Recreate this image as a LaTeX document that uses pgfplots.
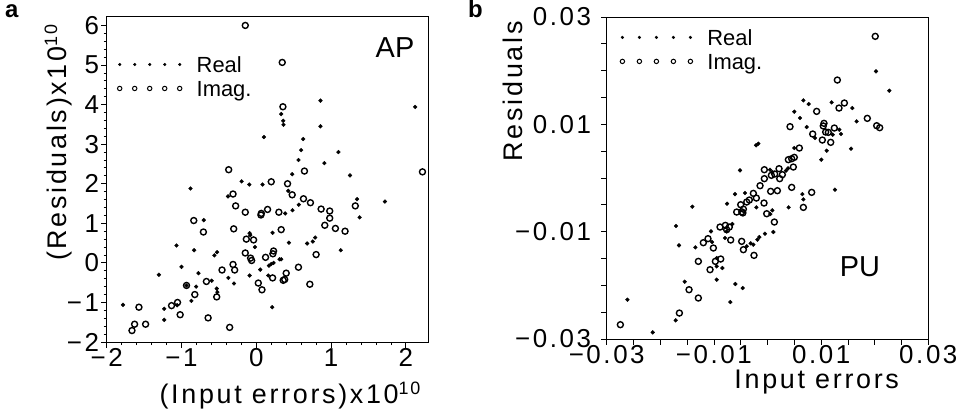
\documentclass[border=0pt]{standalone}
\usepackage{fontspec}
\setmainfont{Liberation Sans}
\newfontfamily\lsfont{Liberation Sans}[LetterSpace=10]
\usepackage{pgfplots}
\pgfplotsset{compat=1.18}

\pgfplotstableread{
x y
-0.147 6.00
0.347 5.065
0.356 3.945
-0.369 2.354
0.644 2.32
2.222 2.30
0.20 2.05
0.418 2.00
-0.311 1.74
0.48 1.72
0.631 1.62
0.724 1.52
-0.276 1.44
1.324 1.44
0.867 1.36
0.982 1.31
-0.147 1.28
0.151 1.35
0.067 1.25
0.062 1.21
0.302 1.28
0.982 1.13
-0.836 1.07
0.916 0.95
1.058 0.87
1.187 0.80
-0.302 0.86
0.333 0.84
-0.707 0.78
-0.133 0.60
-0.036 0.58
-0.147 0.25
0.124 0.14
0.231 0.30
0.222 0.23
0.80 0.21
-0.076 0.12
-0.062 0.06
-0.311 -0.04
-0.458 -0.18
-0.289 -0.18
0.564 -0.11
0.218 -0.38
0.40 -0.26
0.36 -0.44
0.38 -0.42
-0.667 -0.47
0.716 -0.54
0.027 -0.51
0.076 -0.68
-0.529 -0.86
-0.822 -0.80
-0.933 -0.57
-1.053 -1.00
-1.133 -1.08
-1.018 -1.31
-0.644 -1.39
-0.356 -1.63
-1.569 -1.12
-1.627 -1.55
-1.48 -1.55
-1.662 -1.71
}\apimag

\pgfplotstableread{
x y
0.333 3.76
0.36 3.59
0.364 3.49
0.858 4.10
0.858 3.45
2.124 3.94
0.102 3.18
0.627 3.13
0.60 2.85
1.098 2.80
0.564 2.60
0.911 2.52
0.48 2.24
1.253 2.21
-0.196 2.06
-0.093 1.98
0.084 1.98
-0.88 1.88
-0.378 1.68
0.427 1.82
1.347 1.61
1.72 1.55
0.484 1.33
0.387 1.25
0.569 1.47
1.382 1.15
-0.702 1.08
0.218 0.76
-0.089 0.75
-0.08 0.70
0.436 0.51
0.68 0.49
0.756 0.54
0.787 0.64
-0.018 0.40
-1.067 0.44
-0.831 0.32
-0.524 0.27
-0.56 0.19
1.129 0.32
0.311 0.09
0.333 0.09
-1.0 -0.10
0.053 -0.17
0.169 -0.07
0.20 -0.03
0.231 0.0
-1.302 -0.30
-0.773 -0.26
-0.596 -0.45
-0.373 -0.38
-0.089 -0.32
0.16 -0.32
-0.298 -0.52
-0.804 -0.60
-0.529 -0.65
-0.52 -0.74
-0.933 -0.57
-0.867 -0.96
-1.782 -1.06
-1.231 -1.16
-1.058 -1.07
0.213 -1.12
-1.231 -1.44
}\apreal

\pgfplotstableread{
x y
0.0201 0.0264
0.01303 0.01826
0.01334 0.01304
0.01434 0.01398
0.00917 0.01242
0.01862 0.01112
0.02037 0.00975
0.02093 0.00938
0.0042 0.00957
0.01054 0.01019
0.0104 0.0097
0.01247 0.00932
0.01135 0.00851
0.01085 0.00857
0.00843 0.0082
0.01023 0.00708
0.01179 0.00665
0.00594 0.00559
0.005 0.00385
0.00451 0.0036
0.00389 0.00342
0.00482 0.00205
0.00215 0.00174
-0.00059 0.00155
-0.00059 -0.00012
0.00072 0.0005
0.00134 0.00075
0.00227 -0.00012
0.00277 0.00063
0.00059 -0.00248
0.00184 -0.00236
0.00451 -0.00174
0.00824 -0.00267
0.00669 -0.00547
-0.00139 -0.00143
-0.00264 -0.00286
-0.00208 -0.00373
-0.00065 -0.00466
-0.00339 -0.0041
-0.00388 -0.00447
-0.005 -0.00497
-0.00575 -0.00634
-0.0045 -0.0058
-0.0048 -0.0063
-0.0046 -0.0065
-0.00015 -0.00665
0.00128 -0.0082
-0.00886 -0.00913
-0.00786 -0.00882
-0.00762 -0.00963
-0.00712 -0.00913
-0.00687 -0.01155
-0.00482 -0.0118
-0.0045 -0.01335
-0.00252 -0.01441
-0.0111 -0.0113
-0.01197 -0.01205
-0.0101 -0.01304
-0.0129 -0.01553
-0.00873 -0.01509
-0.00973 -0.01553
-0.01072 -0.01708
-0.01464 -0.02081
-0.0129 -0.02236
-0.01644 -0.02516
-0.02745 -0.02733
}\puimag

\pgfplotstableread{
x y
0.02024 0.01988
0.02273 0.01627
0.00669 0.01447
0.00768 0.01379
0.01197 0.0141
0.01583 0.01304
0.005 0.01236
0.00606 0.01118
0.01663 0.01056
0.00731 0.0095
0.0134 0.009
0.01371 0.0082
0.01216 0.00808
0.00886 0.00745
-0.00171 0.0064
-0.00214 0.00609
0.005 0.00559
0.01558 0.00547
0.01104 0.00509
0.01004 0.00342
-0.00513 0.00143
0.00047 0.00155
0.0009 0.00112
0.00345 0.00137
0.00383 0.0018
-0.00606 -0.003
-0.0042 -0.00279
0.0065 -0.003
0.00669 -0.00398
0.01259 -0.00217
-0.00755 -0.00478
-0.01402 -0.00534
-0.00208 -0.00547
0.0009 -0.00602
0.00395 -0.00547
0.00053 -0.00671
-0.01707 -0.00894
-0.00762 -0.00994
-0.00656 -0.00857
-0.01054 -0.00994
0.00109 -0.01006
-0.00047 -0.01037
-0.00152 -0.011
-0.00189 -0.01149
-0.00314 -0.01217
-0.00264 -0.01242
-0.00793 -0.01118
-0.00388 -0.01273
-0.01651 -0.01255
-0.01346 -0.01292
-0.01035 -0.01193
-0.00948 -0.01491
-0.00948 -0.01646
-0.00842 -0.01677
-0.00948 -0.01894
-0.01545 -0.01932
-0.006 -0.01975
-0.00463 -0.0205
-0.00693 -0.02311
-0.02614 -0.02267
-0.01713 -0.02652
-0.02142 -0.02876
}\pureal

\pgfplotsset{
  resid/.style={
    scale only axis, width=321.6bp,
    axis line style={line width=0.9bp},
    every tick/.style={line width=0.8bp, black},
    tick align=outside, xtick pos=left, ytick pos=left,
    major tick length=5.5bp, minor tick length=3bp,
    ticklabel style={font=\fontsize{26}{26}\lsfont},
    xticklabel style={inner sep=1bp},
    yticklabel style={inner sep=2bp},
    scaled ticks=false,
    legend cell align=left,
    legend style={draw=none, fill=none, inner sep=0pt, outer sep=0pt,
      anchor=north west, font=\fontsize{22}{22}\selectfont,
      nodes={inner sep=0pt, text height=20bp, text depth=4bp},
      row sep=0pt, column sep=0pt},
  },
  realpts/.style={only marks, mark=*, mark size=1.9bp, black},
  imagpts/.style={only marks, mark=o, mark size=3.0bp, black, mark options={line width=1.4bp}},
  legrealA/.style={legend image code/.code={\draw[##1,mark size=1.4bp] plot[only marks] coordinates {(0bp,0bp) (15bp,0bp) (30bp,0bp) (45bp,0bp) (60bp,0bp)}; \path[draw=none] (0bp,0bp) -- (77bp,0bp);}},
  legimagA/.style={legend image code/.code={\draw[##1,mark size=2.2bp,mark options={line width=1.0bp}] plot[only marks] coordinates {(0bp,0bp) (15bp,0bp) (30bp,0bp) (45bp,0bp) (60bp,0bp)}; \path[draw=none] (0bp,0bp) -- (77bp,0bp);}},
  legrealB/.style={legend image code/.code={\draw[##1,mark size=1.4bp] plot[only marks] coordinates {(0bp,0bp) (17bp,0bp) (34bp,0bp) (51bp,0bp) (68bp,0bp)}; \path[draw=none] (0bp,0bp) -- (85bp,0bp);}},
  legimagB/.style={legend image code/.code={\draw[##1,mark size=2.2bp,mark options={line width=1.0bp}] plot[only marks] coordinates {(0bp,0bp) (17bp,0bp) (34bp,0bp) (51bp,0bp) (68bp,0bp)}; \path[draw=none] (0bp,0bp) -- (85bp,0bp);}},
}

\begin{document}
\begin{tikzpicture}
\path (0bp,0bp) rectangle (963bp,410bp);

\begin{axis}[resid, at={(106.7bp,69.3bp)}, anchor=south west, height=325.7bp,
  xmin=-2, xmax=2.3, ymin=-2, ymax=6.23,
  xtick={-2,-1,0,1,2}, xticklabels={−2,−1,0,1,2},
  ytick={-2,-1,0,1,2,3,4,5,6}, yticklabels={−2,−1,0,1,2,3,4,5,6},
  minor tick num=4,
  legend style={at={(0.0336,0.889)}}]
\addplot[realpts, legrealA] table[x=x,y=y] {\apreal};
\addlegendentry{Real}
\addplot[imagpts, legimagA] table[x=x,y=y] {\apimag};
\addlegendentry{Imag.}
\end{axis}

\begin{axis}[resid, at={(606.7bp,72.3bp)}, anchor=south west, height=322bp,
  xmin=-0.03, xmax=0.03, ymin=-0.03, ymax=0.03,
  xtick={-0.03,-0.01,0.01,0.03}, xticklabels={−0.03,−0.01,0.01,0.03},
  ytick={-0.03,-0.01,0.01,0.03}, yticklabels={−0.03,−0.01,0.01,0.03},
  minor xtick={-0.025,-0.02,-0.015,-0.005,0,0.005,0.015,0.02,0.025},
  minor ytick={-0.025,-0.02,-0.015,-0.005,0,0.005,0.015,0.02,0.025},
  minor tick length=5.5bp,
  yticklabel style={xshift=-8bp},
  legend style={at={(0.042,0.974)}}]
\addplot[realpts, legrealB] table[x=x,y=y] {\pureal};
\addlegendentry{Real}
\addplot[imagpts, legimagB] table[x=x,y=y] {\puimag};
\addlegendentry{Imag.}
\end{axis}

% panel letters and labels
\node[anchor=base west, inner sep=0pt, font=\fontsize{24}{24}\selectfont\bfseries] at (5bp,394bp) {a};
\node[anchor=base west, inner sep=0pt, font=\fontsize{24}{24}\selectfont\bfseries] at (468bp,394bp) {b};
\node[inner sep=0pt, font=\fontsize{29}{29}\selectfont] at (395bp,364bp) {AP};
\node[inner sep=0pt, font=\fontsize{29}{29}\selectfont] at (860bp,145bp) {PU};
\node[anchor=base, inner sep=0pt, font=\fontsize{27}{27}\lsfont] at (290bp,8.3bp) {(Input errors)x10\raisebox{9bp}{\fontsize{18}{18}\lsfont 10}};
\node[anchor=base, inner sep=0pt, font=\fontsize{27}{27}\lsfont] at (816.7bp,23.3bp) {Input errors};
\node[anchor=base, rotate=90, inner sep=0pt, font=\fontsize{27}{27}\lsfont] at (66bp,268.5bp) {(Residuals)x10\raisebox{9bp}{\fontsize{18}{18}\lsfont 10}};
\node[anchor=base, rotate=90, inner sep=0pt, font=\fontsize{27}{27}\lsfont] at (522bp,320bp) {Residuals};
\end{tikzpicture}
\end{document}
